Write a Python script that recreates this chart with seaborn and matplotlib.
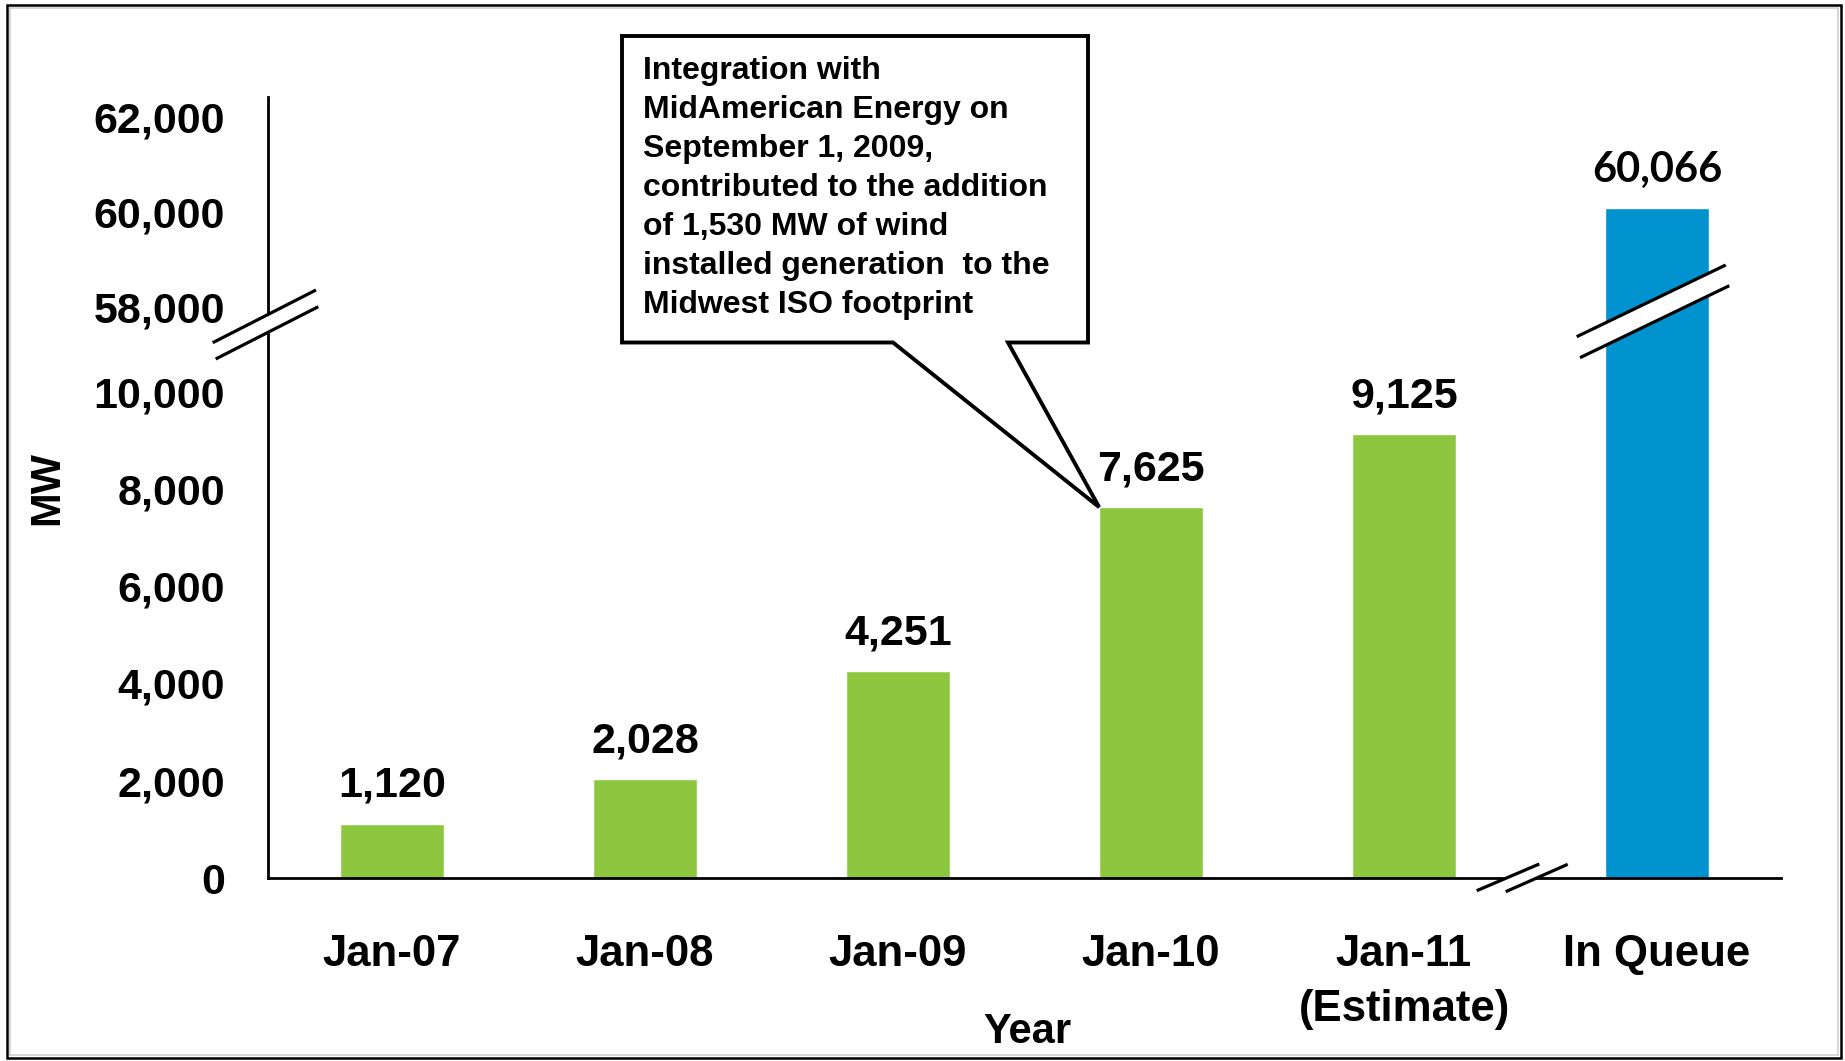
import matplotlib
matplotlib.use("Agg")
import matplotlib.pyplot as plt
from matplotlib.patches import Polygon, Rectangle
from matplotlib.lines import Line2D
import seaborn as sns
import pandas as pd

# ---- data ----
categories = ["Jan-07", "Jan-08", "Jan-09", "Jan-10", "Jan-11\n(Estimate)", "In Queue"]
mw_values = [1120, 2028, 4251, 7625, 9125, 60066]
bar_colors = ["#8DC63F", "#8DC63F", "#8DC63F", "#8DC63F", "#8DC63F", "#0093D0"]
lower_ticks = [0, 2000, 4000, 6000, 8000, 10000]
upper_ticks = [58000, 60000, 62000]
callout_text = ("Integration with\nMidAmerican Energy on\nSeptember 1, 2009,\n"
                "contributed to the addition\nof 1,530 MW of wind\n"
                "installed generation  to the\nMidwest ISO footprint")

sns.set_style("white")
plt.rcParams["font.family"] = ["Liberation Sans", "DejaVu Sans"]
plt.rcParams["font.weight"] = "bold"
for key in ("text.color", "axes.labelcolor", "xtick.color", "ytick.color"):
    plt.rcParams[key] = "black"

W, H = 1845, 1061
fig = plt.figure(figsize=(W / 100, H / 100), dpi=100)


def fx(px):
    return px / W


def fy(py):
    return 1 - py / H


# broken y axis: lower and upper panels share the x positions
x0, x1 = 268, 1781
y_top, y_mid, y_base = 97, 324, 878
ax_lo = fig.add_axes([fx(x0), fy(y_base), fx(x1) - fx(x0), fy(y_mid) - fy(y_base)])
ax_hi = fig.add_axes([fx(x0), fy(y_mid), fx(x1) - fx(x0), fy(y_top) - fy(y_mid)])

df = pd.DataFrame({"period": categories, "mw": mw_values})
bar_w = 0.41
for ax in (ax_lo, ax_hi):
    sns.barplot(data=df, x="period", y="mw", hue="period", palette=bar_colors,
                legend=False, width=bar_w, saturation=1, ax=ax)
    ax.set_xlim(-0.49, 5.49)
    ax.set_ylabel("")
    ax.set_xlabel("")
    for s in ("top", "right"):
        ax.spines[s].set_visible(False)
    ax.spines["left"].set_linewidth(2.0)
    ax.spines["left"].set_color("black")
    ax.tick_params(axis="y", length=0, pad=31, labelsize=31)

ax_lo.set_ylim(0, 11392)
ax_hi.set_ylim(57634, 62413)

ax_lo.set_yticks(lower_ticks)
ax_lo.set_yticklabels([f"{t:,}" for t in lower_ticks], fontweight="bold")
ax_hi.set_yticks(upper_ticks)
ax_hi.set_yticklabels([f"{t:,}" for t in upper_ticks], fontweight="bold")

ax_hi.spines["bottom"].set_visible(False)
ax_hi.set_xticks([])
ax_lo.spines["bottom"].set_linewidth(2.0)
ax_lo.spines["bottom"].set_color("black")
ax_lo.tick_params(axis="x", length=0, pad=40, labelsize=31.5)
ax_lo.set_xticks(range(len(categories)))
ax_lo.set_xticklabels(categories, fontweight="bold", linespacing=1.44)

ax_lo.set_xlabel("Year", fontsize=30, fontweight="bold", va="center")
ax_lo.xaxis.set_label_coords((1027 - x0) / (x1 - x0), (y_base - 1032) / (y_base - y_mid))
ax_lo.set_ylabel("MW", fontsize=30, fontweight="bold", va="center")
ax_lo.yaxis.set_label_coords((47 - x0) / (x1 - x0), (y_base - 488) / (y_base - y_mid))

# value labels above bars
for i, v in enumerate(mw_values):
    if v > 11000:
        ax_hi.annotate(f"{v:,}", xy=(i, v), xytext=(0, 19), textcoords="offset points",
                       ha="center", va="baseline", fontsize=30, fontweight="bold",
                       family=["Lato", "DejaVu Sans"])
    else:
        ax_lo.annotate(f"{v:,}", xy=(i, v), xytext=(0, 19.5), textcoords="offset points",
                       ha="center", va="baseline", fontsize=31, fontweight="bold")


# axis-break marks: white band between two parallel slashes
def break_mark(p1, p2, q1, q2):
    band = Polygon([(fx(p1[0]), fy(p1[1])), (fx(p2[0]), fy(p2[1])),
                    (fx(q2[0]), fy(q2[1])), (fx(q1[0]), fy(q1[1]))],
                   closed=True, facecolor="white", edgecolor="none",
                   transform=fig.transFigure, zorder=20)
    fig.add_artist(band)
    for a, b in ((p1, p2), (q1, q2)):
        fig.add_artist(Line2D([fx(a[0]), fx(b[0])], [fy(a[1]), fy(b[1])],
                              color="black", lw=2.3, transform=fig.transFigure,
                              zorder=21, solid_capstyle="butt"))


break_mark((212.7, 342.7), (316, 290), (215.7, 359), (318.3, 306.7))
break_mark((1576.7, 336.7), (1725.7, 265), (1580, 357.7), (1729.3, 285.7))
break_mark((1476.7, 890.7), (1539.3, 864), (1505.7, 891.7), (1567.7, 864.3))

# callout pointing at the Jan-10 bar
fig.canvas.draw()
tip_disp = ax_lo.transData.transform((3 - bar_w / 2, mw_values[3]))
tip = fig.transFigure.inverted().transform(tip_disp)
bx0, by0, bx1, by1 = 622, 36, 1088, 342.5
callout = Polygon([(fx(bx0), fy(by0)), (fx(bx1), fy(by0)), (fx(bx1), fy(by1)),
                   (fx(1008), fy(by1)), tuple(tip), (fx(893), fy(by1)),
                   (fx(bx0), fy(by1))],
                  closed=True, facecolor="white", edgecolor="black", lw=2.8,
                  joinstyle="miter", transform=fig.transFigure, zorder=30)
fig.add_artist(callout)
fig.text(fx(643), fy(56), callout_text, ha="left", va="top", fontsize=23,
         fontweight="bold", linespacing=1.39, zorder=31)

# outer frame
fig.add_artist(Rectangle((fx(7), fy(1058)), fx(1841) - fx(7), fy(5) - fy(1058),
                         fill=False, edgecolor="black", lw=1.8,
                         transform=fig.transFigure, zorder=40))
fig.add_artist(Rectangle((fx(10), fy(1055)), fx(1838) - fx(10), fy(8) - fy(1055),
                         fill=False, edgecolor="#d0d0d0", lw=1.2,
                         transform=fig.transFigure, zorder=40))

fig.savefig("out.png", dpi=100)
